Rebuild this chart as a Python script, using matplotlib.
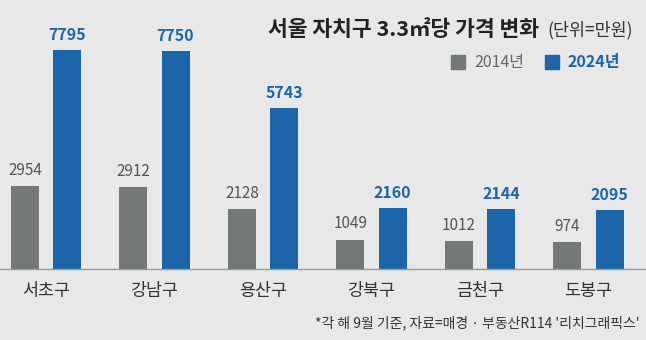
import matplotlib as mpl
import matplotlib.pyplot as plt
import numpy as np

mpl.rcParams["font.family"] = ["Noto Sans CJK KR", "DejaVu Sans"]

districts = ["서초구", "강남구", "용산구", "강북구", "금천구", "도봉구"]
price_2014 = [2954, 2912, 2128, 1049, 1012, 974]
price_2024 = [7795, 7750, 5743, 2160, 2144, 2095]

bg = "#e8e8e9"
gray = "#757676"
blue = "#1c65a9"

fig = plt.figure(figsize=(6.46, 3.4), dpi=100, facecolor=bg)
ax = fig.add_axes([0, 71 / 340, 1, 269 / 340])
ax.set_facecolor(bg)

x = np.arange(len(districts))
w = 0.258
off = 0.194
ax.bar(x - off, price_2014, w, color=gray)
ax.bar(x + off, price_2024, w, color=blue)

for xi, v in zip(x, price_2014):
    ax.text(xi - off, v + 250, f"{v}", ha="center", va="bottom",
            fontsize=11, color="#555555")
for xi, v in zip(x, price_2024):
    ax.text(xi + off, v + 250, f"{v}", ha="center", va="bottom",
            fontsize=11.5, color=blue, fontweight="bold")

ax.set_xlim(-46 / 108.5, (646 - 46) / 108.5)
ax.set_ylim(0, 9573)
ax.axis("off")

fig.add_artist(plt.Line2D([0, 1], [71 / 340, 71 / 340], color="#9a9a9a", lw=1))

for xi, name in zip(x, districts):
    fig.text((46 + 108.5 * xi) / 646, 1 - 291 / 340, name, ha="center",
             va="center", fontsize=12.5, color="#333333")

fig.text(539 / 646, 1 - 30 / 340, "서울 자치구 3.3㎡당 가격 변화", ha="right",
         va="center", fontsize=15.5, fontweight="bold", color="#222222")
fig.text(547 / 646, 1 - 30 / 340, "(단위=만원)", ha="left", va="center",
         fontsize=12.5, color="#333333")

# legend
fig.patches.append(plt.Rectangle((451 / 646, 1 - 69 / 340), 14 / 646, 14 / 340,
                                 transform=fig.transFigure, color=gray))
fig.text(474 / 646, 1 - 62 / 340, "2014년", ha="left", va="center",
         fontsize=11.5, color="#666666")
fig.patches.append(plt.Rectangle((545 / 646, 1 - 69 / 340), 14 / 646, 14 / 340,
                                 transform=fig.transFigure, color=blue))
fig.text(568 / 646, 1 - 62 / 340, "2024년", ha="left", va="center",
         fontsize=11.5, color=blue, fontweight="bold")

fig.text(640 / 646, 1 - 323 / 340, "*각 해 9월 기준, 자료=매경 · 부동산R114 '리치그래픽스'",
         ha="right", va="center", fontsize=10, color="#333333")

fig.savefig("out.png", dpi=100, facecolor=bg)
